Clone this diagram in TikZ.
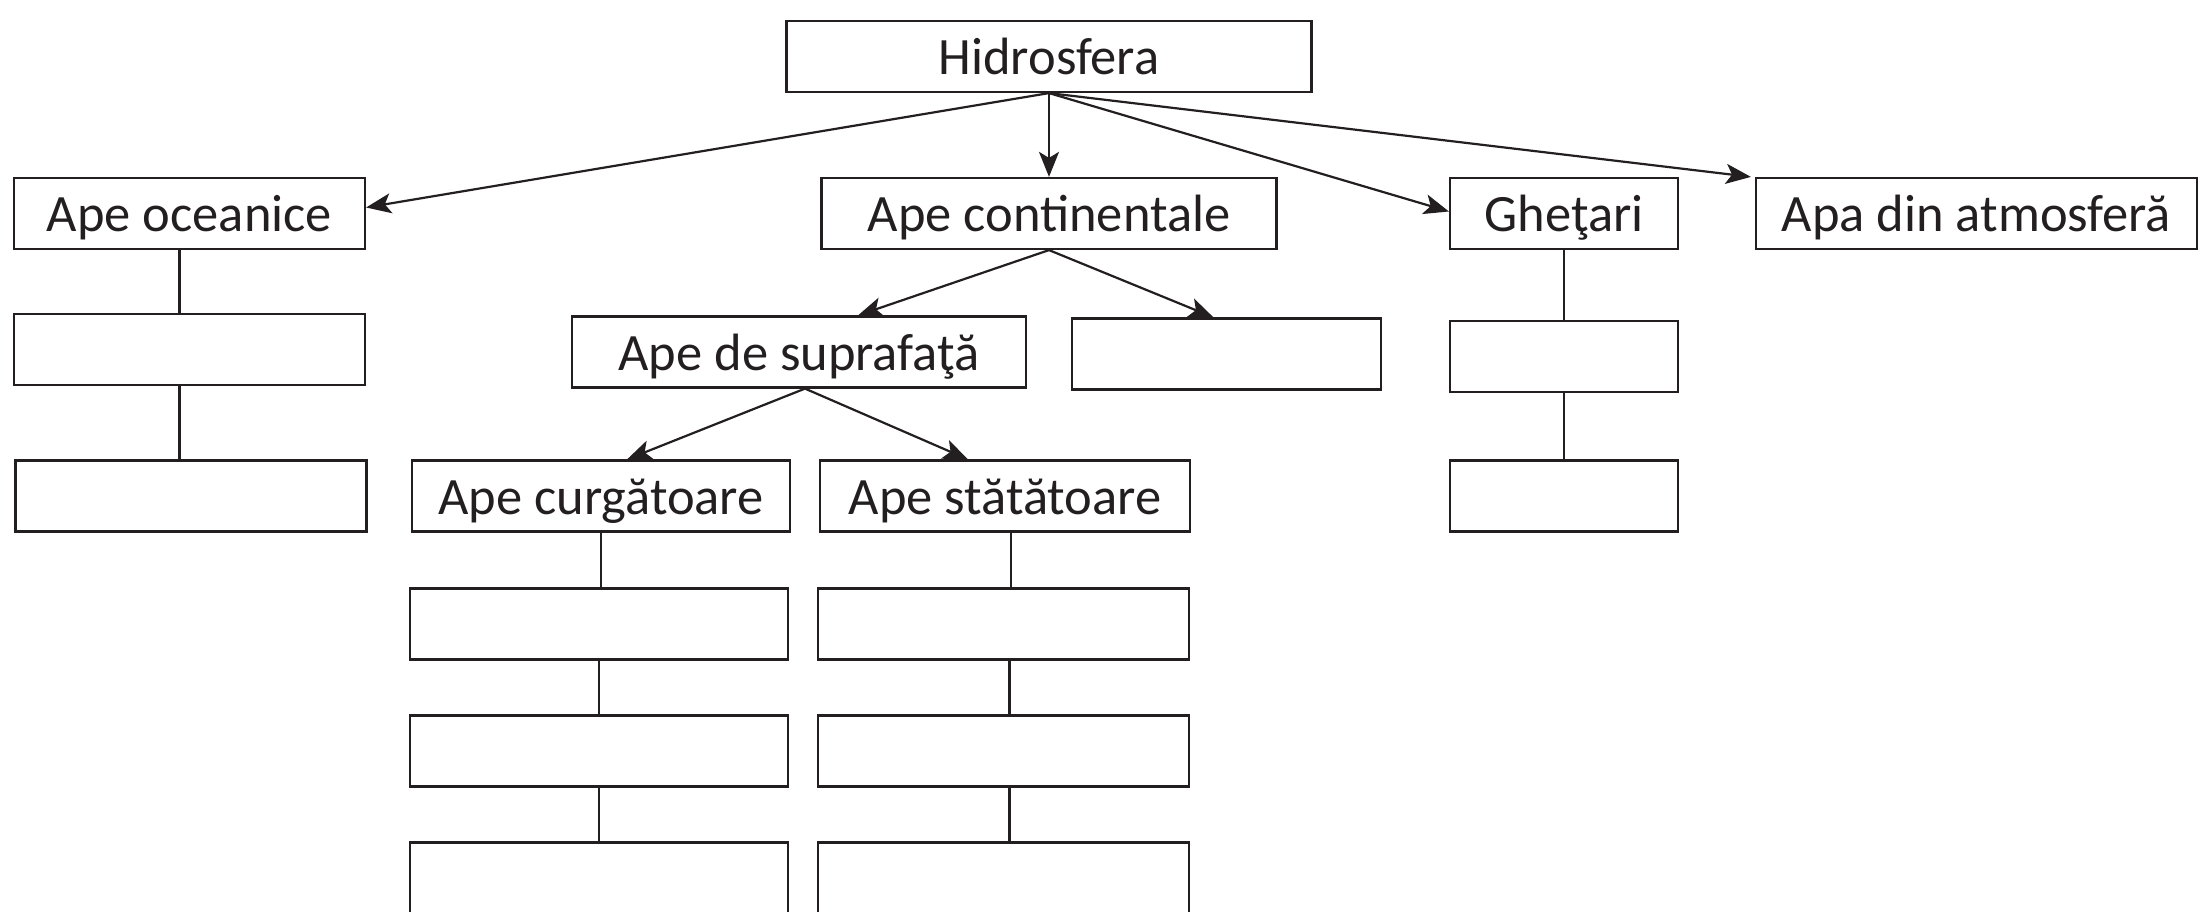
\documentclass[tikz,border=0pt]{standalone}
\usepackage{fontspec}
\setmainfont{Carlito}
\usetikzlibrary{arrows.meta}
\definecolor{ink}{RGB}{35,31,32}
\begin{document}
\begin{tikzpicture}[x=1pt,y=-1pt,
  box/.style={draw=ink, line width=2.2pt, rectangle, inner sep=0pt, minimum height=71pt,
    text height=36pt, text depth=0pt, text=ink, font=\fontsize{52.5}{60}\selectfont},
  arr/.style={draw=ink, line width=2.2pt, -{Stealth[length=25pt,width=20pt,inset=6pt]}},
  link/.style={draw=ink, line width=2.2pt}]
\useasboundingbox (0,0) rectangle (2210,912);
% level 0
\node[box, minimum width=525pt] (hid) at (1049,56.5) {Hidrosfera};
% level 1
\node[box, minimum width=351pt] (oce) at (189.5,213.5) {Ape oceanice};
\node[box, minimum width=455pt] (cont) at (1049,213.5) {Ape continentale};
\node[box, minimum width=228pt] (ghe) at (1564,213.5) {Gheţari};
\node[box, minimum width=441pt] (atm) at (1976.5,213.5) {Apa din atmosferă};
% oceanic column
\node[box, minimum width=351pt] (oce2) at (189.5,349.5) {};
\node[box, minimum width=351pt] (oce3) at (191,496) {};
% glaciers column
\node[box, minimum width=228pt] (ghe2) at (1564,356.5) {};
\node[box, minimum width=228pt] (ghe3) at (1564,496) {};
% continental
\node[box, minimum width=454pt] (sup) at (799,352) {Ape de suprafaţă};
\node[box, minimum width=309pt] (gol) at (1226.5,354) {};
\node[box, minimum width=378pt] (cur) at (601,496) {Ape curgătoare};
\node[box, minimum width=370pt] (sta) at (1005,496) {Ape stătătoare};
\node[box, minimum width=378pt] (cur1) at (599,624) {};
\node[box, minimum width=378pt] (cur2) at (599,751) {};
\node[box, minimum width=378pt] (cur3) at (599,878) {};
\node[box, minimum width=371pt] (sta1) at (1003.5,624) {};
\node[box, minimum width=371pt] (sta2) at (1003.5,751) {};
\node[box, minimum width=371pt] (sta3) at (1003.5,878) {};
% arrows
\draw[arr] (hid.south) -- ([yshift=6pt]oce.east);
\draw[arr] (hid.south) -- (hid.south |- cont.north);
\draw[arr] (hid.south) -- ([yshift=2pt]ghe.west);
\draw[arr] (hid.south) -- ([xshift=-4pt]atm.north west);
\draw[arr] (cont.south) -- ([xshift=59pt]sup.north);
\draw[arr] (cont.south) -- ([xshift=-13pt]gol.north);
\draw[arr] ([xshift=6pt]sup.south) -- ([xshift=26pt]cur.north);
\draw[arr] ([xshift=6pt]sup.south) -- ([xshift=-37pt]sta.north);
% plain links
\draw[link] ([xshift=-10pt]oce.south) -- ([xshift=-10pt]oce2.north);
\draw[link] ([xshift=-10pt]oce2.south) -- ([xshift=-10pt]oce2.south |- oce3.north);
\draw[link] (ghe.south) -- (ghe2.north);
\draw[link] (ghe2.south) -- (ghe3.north);
\draw[link] (cur.south) -- (cur.south |- cur1.north);
\draw[link] (cur1.south) -- (cur2.north);
\draw[link] (cur2.south) -- (cur3.north);
\draw[link] ([xshift=6pt]sta.south) -- ([xshift=6pt]sta.south |- sta1.north);
\draw[link] ([xshift=6pt]sta1.south) -- ([xshift=6pt]sta2.north);
\draw[link] ([xshift=6pt]sta2.south) -- ([xshift=6pt]sta3.north);
\end{tikzpicture}
\end{document}
